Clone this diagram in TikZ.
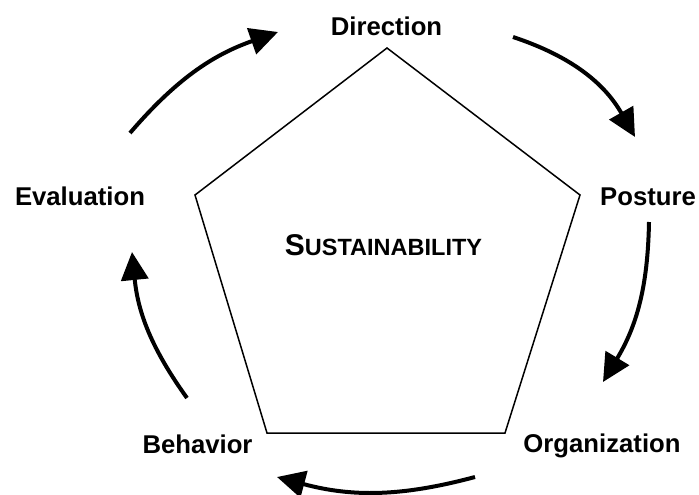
\documentclass[tikz,border=0pt]{standalone}
\usepackage{fontspec}
\setmainfont{Liberation Sans}
\usetikzlibrary{arrows.meta}

\begin{document}
\begin{tikzpicture}[x=1pt,y=-1pt,
    stage/.style={anchor=base,font=\bfseries\fontsize{25.7}{28}\selectfont},
    cyc/.style={line width=4pt,-{Triangle[length=28pt,width=27pt]}}]
  \useasboundingbox (0,0) rectangle (699,495);

  % pentagon
  \coordinate (top) at (387,48);
  \coordinate (rgt) at (580,195);
  \coordinate (brt) at (505,433);
  \coordinate (blt) at (267,433);
  \coordinate (lft) at (195,195);
  \draw[line width=1.5pt] (top) -- (rgt) -- (brt) -- (blt) -- (lft) -- cycle;

  \node[anchor=base,font=\bfseries] (sus) at (383.5,255)
    {{\fontsize{30}{32}\selectfont S}{\fontsize{23.5}{26}\selectfont USTAINABILITY}};

  % the five stages
  \node[stage] (dir) at (386.5,36) {Direction};
  \node[stage] (pos) at (648,205) {Posture};
  \node[stage] (org) at (602,452) {Organization};
  \node[stage] (beh) at (197.5,453) {Behavior};
  \node[stage] (eva) at (80,205) {Evaluation};

  % arrow ends
  \coordinate (e1) at (130,133);
  \coordinate (d1) at (278,32);
  \coordinate (d2) at (513,37);
  \coordinate (p1) at (635,137);
  \coordinate (p2) at (649,222);
  \coordinate (o1) at (603,382);
  \coordinate (o2) at (475,477);
  \coordinate (b1) at (277,477);
  \coordinate (b2) at (187,398);
  \coordinate (e2) at (132,252);

  \draw[cyc] (e1) to[bend left=15] (d1);
  \draw[cyc] (d2) to[bend left=21] (p1);
  \draw[cyc] (p2) to[bend left=15] (o1);
  \draw[cyc] (o2) to[bend left=15] (b1);
  \draw[cyc] (b2) to[bend left=15] (e2);
\end{tikzpicture}
\end{document}
